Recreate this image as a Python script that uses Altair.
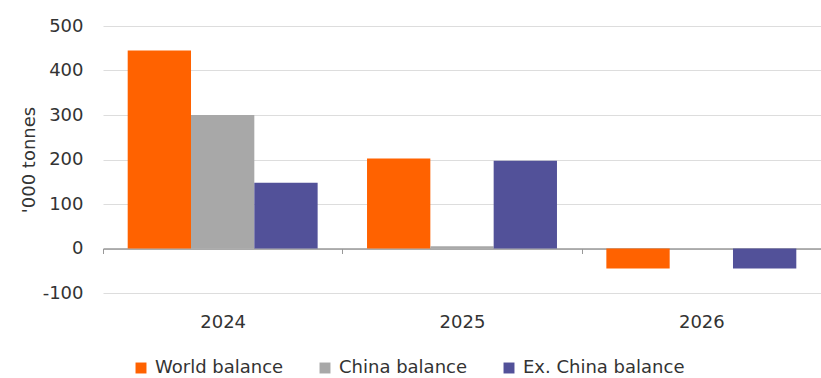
import altair as alt
import pandas as pd

years = ["2024", "2025", "2026"]
series = ["World balance", "China balance", "Ex. China balance"]
world = [445, 202, -45]
china = [300, 5, 0]
exchina = [148, 197, -45]
colors = ["#FF6200", "#A8A8A8", "#525199"]

rows = []
for i, y in enumerate(years):
    for s, vals in zip(series, [world, china, exchina]):
        rows.append({"year": y, "series": s, "value": vals[i]})
df = pd.DataFrame(rows)

FONT = "DejaVu Sans"
FS = 18

bars = alt.Chart(df).mark_bar().encode(
    x=alt.X("year:N", sort=years, title=None,
            scale=alt.Scale(paddingInner=0, paddingOuter=0),
            axis=alt.Axis(labelAngle=0, offset=-44.5, tickBand="extent",
                          domainColor="#999999", domainWidth=1.5,
                          tickColor="#999999", tickSize=5,
                          labelPadding=60, labelFontSize=FS,
                          labelColor="#333333", labelFont=FONT, grid=False)),
    xOffset=alt.XOffset("series:N", sort=series,
                        scale=alt.Scale(paddingInner=0, paddingOuter=0.39)),
    y=alt.Y("value:Q", title="'000 tonnes",
            scale=alt.Scale(domain=[-100, 500], nice=False),
            axis=alt.Axis(values=[-100, 0, 100, 200, 300, 400, 500],
                          domain=False, ticks=False, labelPadding=20,
                          labelExpr="replace(datum.label, '\u2212', '-')",
                          labelFontSize=FS, labelColor="#333333", labelFont=FONT,
                          gridColor="#dddddd", gridWidth=1,
                          titleFontSize=FS, titleFontWeight="normal",
                          titleColor="#333333", titleFont=FONT, titlePadding=4)),
    color=alt.Color("series:N", sort=series,
                    scale=alt.Scale(domain=series, range=colors),
                    legend=alt.Legend(orient="none", legendX=29, legendY=333,
                                      title=None, direction="horizontal",
                                      symbolType="square", symbolSize=120,
                                      labelFontSize=FS, labelColor="#333333",
                                      labelFont=FONT, labelLimit=0,
                                      columnPadding=32, labelOffset=5,
                                      symbolStrokeWidth=0)),
)

chart = bars.properties(
    width=718, height=267,
    autosize=alt.AutoSizeParams(type="none"),
    padding={"left": 103, "top": 26, "right": 0, "bottom": 85},
).configure_view(stroke=None)

chart.save("out.html", embed_options={"renderer": "svg", "actions": False})
